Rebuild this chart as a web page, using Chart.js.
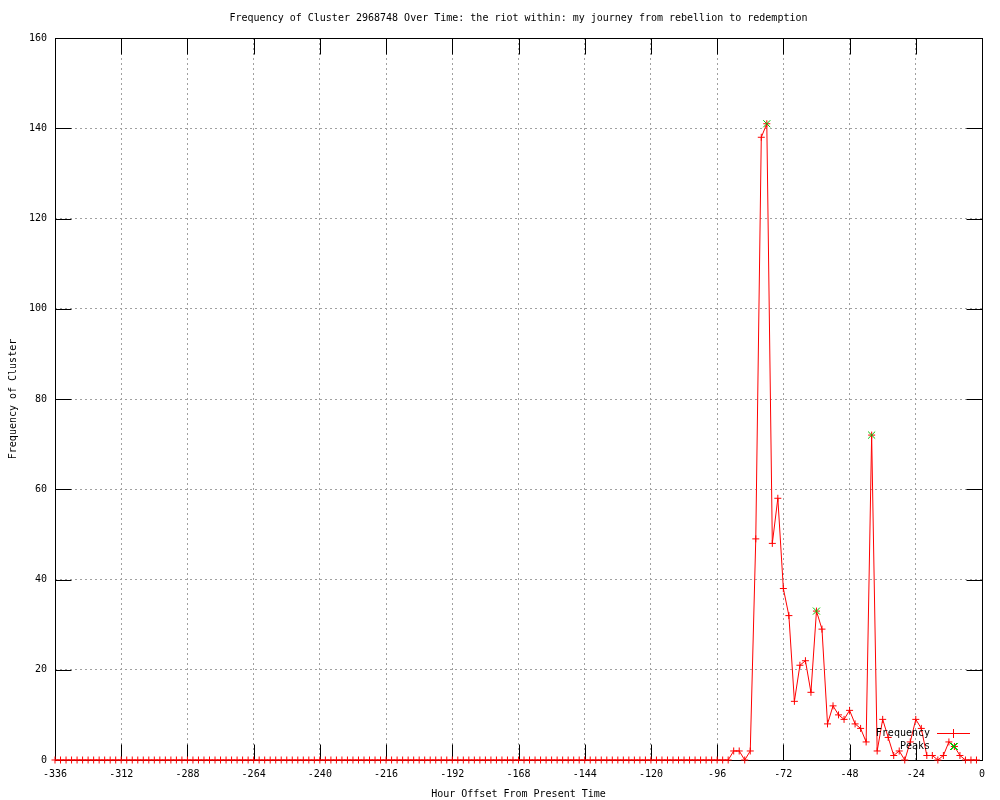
<!DOCTYPE html>
<html>
<head>
<meta charset="utf-8">
<script src="https://cdn.jsdelivr.net/npm/chart.js@4/dist/chart.umd.min.js"></script>
<style>
html,body{margin:0;padding:0;background:#fff;}
#wrap{width:1000px;height:800px;}
</style>
</head>
<body>
<div id="wrap"><canvas id="c" width="1000" height="800"></canvas></div>
<script>
const titleText = "Frequency of Cluster 2968748 Over Time: the riot within: my journey from rebellion to redemption";
const xTitle = "Hour Offset From Present Time";
const yTitle = "Frequency of Cluster";

const hours = [
  -336,-334,-332,-330,-328,-326,-324,-322,-320,-318,-316,-314,
  -312,-310,-308,-306,-304,-302,-300,-298,-296,-294,-292,-290,
  -288,-286,-284,-282,-280,-278,-276,-274,-272,-270,-268,-266,
  -264,-262,-260,-258,-256,-254,-252,-250,-248,-246,-244,-242,
  -240,-238,-236,-234,-232,-230,-228,-226,-224,-222,-220,-218,
  -216,-214,-212,-210,-208,-206,-204,-202,-200,-198,-196,-194,
  -192,-190,-188,-186,-184,-182,-180,-178,-176,-174,-172,-170,
  -168,-166,-164,-162,-160,-158,-156,-154,-152,-150,-148,-146,
  -144,-142,-140,-138,-136,-134,-132,-130,-128,-126,-124,-122,
  -120,-118,-116,-114,-112,-110,-108,-106,-104,-102,-100,-98,
  -96,-94,-92,-90,-88,-86,-84,-82,-80,-78,-76,-74,
  -72,-70,-68,-66,-64,-62,-60,-58,-56,-54,-52,-50,
  -48,-46,-44,-42,-40,-38,-36,-34,-32,-30,-28,-26,
  -24,-22,-20,-18,-16,-14,-12,-10,-8,-6,-4,-2
];
const frequency = [
  0,0,0,0,0,0,0,0,0,0,0,0,
  0,0,0,0,0,0,0,0,0,0,0,0,
  0,0,0,0,0,0,0,0,0,0,0,0,
  0,0,0,0,0,0,0,0,0,0,0,0,
  0,0,0,0,0,0,0,0,0,0,0,0,
  0,0,0,0,0,0,0,0,0,0,0,0,
  0,0,0,0,0,0,0,0,0,0,0,0,
  0,0,0,0,0,0,0,0,0,0,0,0,
  0,0,0,0,0,0,0,0,0,0,0,0,
  0,0,0,0,0,0,0,0,0,0,0,0,
  0,0,0,2,2,0,2,49,138,141,48,58,
  38,32,13,21,22,15,33,29,8,12,10,9,
  11,8,7,4,72,2,9,5,1,2,0,4,
  9,7,1,1,0,1,4,3,1,0,0,0
];
const peakHours = [-78, -60, -40, -10];
const peakValues = [141, 33, 72, 3];

const xTicks = ["-336","-312","-288","-264","-240","-216","-192","-168","-144","-120","-96","-72","-48","-24","0"];
const yTicks = ["0","20","40","60","80","100","120","140","160"];

const FONT = "'DejaVu Sans Mono', 'Liberation Mono', monospace";

const framePlugin = {
  id: 'frame',
  beforeDatasetsDraw(chart) {
    const ctx = chart.ctx, a = chart.chartArea;
    const xs = chart.scales.x, ys = chart.scales.y;
    const L = Math.round(a.left) + 0.5, R = Math.round(a.right) + 0.5;
    const T = Math.round(a.top) + 0.5, B = Math.round(a.bottom) + 0.5;
    const tl = 16;
    ctx.save();
    ctx.strokeStyle = '#000';
    ctx.lineWidth = 1;
    ctx.setLineDash([]);
    ctx.beginPath();
    xs.ticks.forEach(t => {
      const px = Math.round(xs.getPixelForValue(t.value)) + 0.5;
      ctx.moveTo(px, B); ctx.lineTo(px, B - tl);
      ctx.moveTo(px, T); ctx.lineTo(px, T + tl);
    });
    ys.ticks.forEach(t => {
      const py = Math.round(ys.getPixelForValue(t.value)) + 0.5;
      ctx.moveTo(L, py); ctx.lineTo(L + tl, py);
      ctx.moveTo(R, py); ctx.lineTo(R - tl, py);
    });
    ctx.stroke();
    ctx.strokeRect(L, T, R - L, B - T);
    ctx.restore();
  },
  afterDraw(chart) {
    const ctx = chart.ctx;
    ctx.save();
    ctx.setLineDash([]);
    ctx.globalAlpha = 1;
    ctx.font = "10px " + FONT;
    ctx.fillStyle = '#000';
    ctx.textAlign = 'right';
    ctx.textBaseline = 'middle';
    ctx.fillText(chart.data.datasets[0].label, 930, 733);
    ctx.fillText(chart.data.datasets[1].label, 930, 746);
    ctx.fillStyle = '#ff0000';
    ctx.fillRect(937, 733, 33, 1);
    ctx.fillRect(953, 729, 1, 9);
    ctx.lineWidth = 1;
    ctx.strokeStyle = '#00c000';
    ctx.beginPath();
    ctx.moveTo(950, 743); ctx.lineTo(957, 750);
    ctx.moveTo(957, 743); ctx.lineTo(950, 750);
    ctx.stroke();
    ctx.restore();
  }
};

new Chart(document.getElementById('c'), {
  type: 'line',
  data: {
    datasets: [
      {
        label: 'Frequency',
        data: hours.map((h, i) => ({x: h, y: frequency[i]})),
        borderColor: '#ff0000',
        backgroundColor: '#ff0000',
        borderWidth: 1,
        pointStyle: 'cross',
        pointRadius: 3.5,
        pointBorderWidth: 1,
        pointBorderColor: '#ff0000',
        tension: 0,
        clip: false,
        order: 2
      },
      {
        label: 'Peaks',
        data: peakHours.map((h, i) => ({x: h, y: peakValues[i]})),
        showLine: false,
        borderColor: '#00c000',
        backgroundColor: '#00c000',
        pointStyle: 'crossRot',
        pointRadius: 5,
        pointBorderWidth: 1,
        pointBorderColor: '#00c000',
        clip: false,
        order: 1
      }
    ]
  },
  options: {
    responsive: false,
    animation: false,
    events: [],
    layout: { padding: { left: 0, right: 18, top: 0, bottom: 0 } },
    plugins: {
      legend: { display: false },
      tooltip: { enabled: false },
      title: {
        display: true,
        text: titleText,
        fullSize: false,
        color: '#000',
        font: { family: FONT, size: 10, weight: 'normal', lineHeight: 1.2 },
        padding: { top: 12, bottom: 14 }
      }
    },
    scales: {
      x: {
        type: 'linear',
        min: -336, max: 0,
        afterFit(s) { s.height = 40; },
        afterBuildTicks(s) { s.ticks = xTicks.map(v => ({value: Number(v)})); },
        ticks: {
          stepSize: 24,
          autoSkip: false,
          maxRotation: 0,
          padding: 8,
          color: '#000',
          font: { family: FONT, size: 10 },
          callback: (v, i) => xTicks[i]
        },
        grid: { color: '#a0a0a0', lineWidth: 1, drawTicks: false },
        border: { display: false, dash: [2, 3] },
        title: {
          display: true, text: xTitle, color: '#000',
          font: { family: FONT, size: 10, lineHeight: 1.2 },
          padding: { top: 1, bottom: 0 }
        }
      },
      y: {
        type: 'linear',
        min: 0, max: 160,
        afterFit(s) { s.width = 55; },
        afterBuildTicks(s) { s.ticks = yTicks.map(v => ({value: Number(v)})); },
        ticks: {
          stepSize: 20,
          padding: 8,
          color: '#000',
          font: { family: FONT, size: 10 },
          callback: (v, i) => yTicks[i]
        },
        grid: { color: '#a0a0a0', lineWidth: 1, drawTicks: false },
        border: { display: false, dash: [2, 3] },
        title: {
          display: true, text: yTitle, color: '#000',
          font: { family: FONT, size: 10, lineHeight: 1.2 },
          padding: { top: 7, bottom: 0 }
        }
      }
    }
  },
  plugins: [framePlugin]
});
</script>
</body>
</html>
